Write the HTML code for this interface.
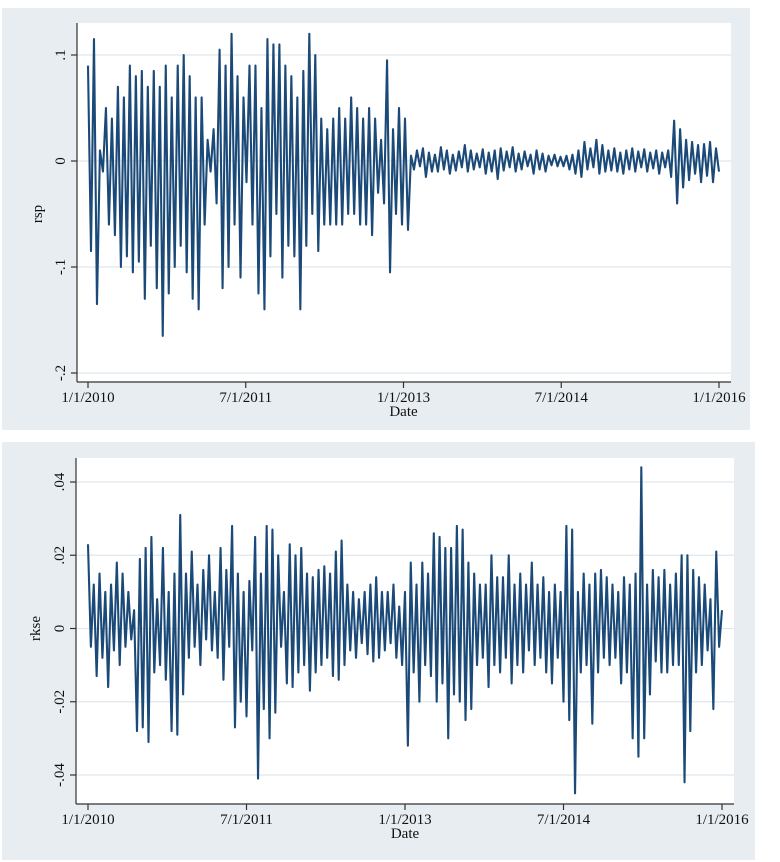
<!DOCTYPE html>
<html><head><meta charset="utf-8"><style>
html,body{margin:0;padding:0;background:#fff;width:780px;height:862px;overflow:hidden}
svg{display:block}
text{font-family:"Liberation Serif",serif;fill:#111}
</style></head><body>
<svg id="chart" width="780" height="862">
<rect x="2" y="8" width="748" height="422" fill="#e7edf0"/>
<rect x="77" y="23" width="654" height="359" fill="#fff"/>
<rect x="2" y="442" width="753" height="418" fill="#e7edf0"/>
<rect x="76" y="458" width="658" height="346" fill="#fff"/>
</svg>
<script>
const xTickLabels = ["1/1/2010","7/1/2011","1/1/2013","7/1/2014","1/1/2016"];
const rspTicks = [0.1, 0, -0.1, -0.2];
const rspTickLabels = [".1","0","-.1","-.2"];
const rkseTicks = [0.04, 0.02, 0, -0.02, -0.04];
const rkseTickLabels = [".04",".02","0","-.02","-.04"];
const rspValues = [.09,-.085,.115,-.135,.01,-.01,.05,-.06,.04,-.07,.07,-.1,.06,-.09,.09,-.105,.08,-.095,.085,-.13,.07,-.08,.085,-.12,.07,-.165,.09,-.125,.06,-.1,.09,-.08,.1,-.105,.08,-.13,.06,-.14,.06,-.06,.02,-.01,.03,-.04,.105,-.12,.09,-.1,.12,-.06,.08,-.11,.06,-.02,.09,-.06,.09,-.125,.05,-.14,.115,-.09,.11,-.05,.11,-.11,.09,-.08,.08,-.09,.06,-.14,.085,-.08,.12,-.05,.1,-.085,.04,-.06,.03,-.06,.04,-.06,.05,-.06,.04,-.05,.06,-.05,.05,-.06,.04,-.06,.05,-.07,.04,-.03,.02,-.04,.095,-.105,.03,-.05,.05,-.06,.04,-.065,
.005,-.008,.01,-.005,.012,-.015,.008,-.01,.006,-.01,.013,-.008,.01,-.012,.006,-.009,.009,-.006,.015,-.01,.01,-.008,.007,-.006,.011,-.012,.008,-.01,.01,-.017,.012,-.009,.009,-.006,.013,-.01,.007,-.008,.009,-.005,.006,-.012,.01,-.008,.007,-.01,.005,-.004,.006,-.005,.004,-.005,.005,-.008,.006,-.012,.01,-.015,.018,-.008,.012,-.006,.02,-.012,.015,-.01,.01,-.009,.012,-.01,.008,-.012,.01,-.008,.012,-.01,.009,-.006,.011,-.01,.008,-.007,.01,-.012,.008,-.006,.01,-.015,.038,-.04,.03,-.025,.02,-.018,.018,-.012,.015,-.02,.016,-.014,.018,-.02,.012,-.01];
const rkseValues = [.023,-.005,.012,-.013,.015,-.008,.01,-.016,.012,-.006,
.018,-.01,.015,-.005,.01,-.003,.005,-.028,.019,-.027,
.022,-.031,.025,-.012,.008,-.01,.022,-.014,.01,-.028,
.015,-.029,.031,-.018,.015,-.008,.021,-.005,.012,-.01,
.016,-.003,.02,-.006,.01,-.008,.022,-.014,.016,-.005,
.028,-.027,.015,-.02,.01,-.024,.013,-.006,.025,-.041,
.015,-.022,.028,-.03,.027,-.023,.02,-.005,.01,-.015,
.023,-.016,.02,-.012,.022,-.01,.015,-.017,.014,-.012,
.016,-.01,.017,-.008,.015,-.013,.021,-.014,.024,-.01,
.012,-.006,.01,-.008,.008,-.004,.01,-.007,.012,-.009,
.014,-.008,.01,-.006,.01,-.004,.012,-.008,.006,-.01,
.01,-.032,.018,-.012,.012,-.02,.018,-.01,.015,-.013,
.026,-.02,.025,-.015,.022,-.03,.022,-.018,.028,-.02,
.027,-.025,.018,-.022,.015,-.01,.012,-.008,.012,-.016,
.02,-.01,.014,-.012,.014,-.008,.02,-.015,.012,-.01,
.015,-.012,.012,-.006,.018,-.01,.012,-.008,.014,-.012,
.01,-.015,.012,-.008,.01,-.02,.028,-.025,.027,-.045,
.01,-.012,.015,-.01,.012,-.026,.015,-.012,.016,-.008,
.014,-.01,.012,-.008,.01,-.015,.014,-.012,.012,-.03,
.015,-.035,.044,-.03,.012,-.018,.016,-.009,.014,-.012,
.016,-.012,.012,-.01,.015,-.01,.02,-.042,.02,-.028,
.016,-.012,.014,-.01,.012,-.006,.008,-.022,.021,-.005,.005];

const NS="http://www.w3.org/2000/svg";
const svg=document.getElementById('chart');
function mk(tag,attrs,parent){const e=document.createElementNS(NS,tag);for(const k in attrs)e.setAttribute(k,attrs[k]);(parent||svg).appendChild(e);return e;}

function panel(p){
  const g=mk('g',{});
  
  
  const y=v=>p.y0+(v-p.v0)*(p.y1-p.y0)/(p.v1-p.v0);
  const x=t=>p.xL+t*(p.xR-p.xL);
  p.ticks.forEach((v,i)=>{
    const l=mk('line',{x1:p.plotL,x2:p.plotR,y1:y(v),y2:y(v),stroke:'#dfe8ec','stroke-width':1.2},g);
    
    
  });
  const n=p.values.length;
  const pts=p.values.map((v,i)=>x(i/(n-1)).toFixed(2)+','+y(v).toFixed(2)).join(' ');
  const line=mk('polyline',{points:pts,fill:'none',stroke:'#1c4a78','stroke-width':2.1,'stroke-linejoin':'round'},g);
  
  
  const ya=mk('line',{x1:p.plotL,x2:p.plotL,y1:p.plotT,y2:p.axisY,stroke:'#333','stroke-width':1.2},g);
  
  
  const xa=mk('line',{x1:p.plotL,x2:p.plotR,y1:p.axisY,y2:p.axisY,stroke:'#333','stroke-width':1.2},g);
  
  
  p.ticks.forEach((v,i)=>{
    const tk=mk('line',{x1:p.plotL-6,x2:p.plotL,y1:y(v),y2:y(v),stroke:'#333','stroke-width':1.2},g);
    
    
    const t=mk('text',{x:0,y:0,'font-size':15,'text-anchor':'middle',transform:`translate(${p.plotL-12},${y(v)}) rotate(-90)`},g);
    t.textContent=p.tickLabels[i];
    
    
  });
  xTickLabels.forEach((s,i)=>{
    const xx=x(i/(xTickLabels.length-1));
    const tk=mk('line',{x1:xx,x2:xx,y1:p.axisY,y2:p.axisY+6,stroke:'#333','stroke-width':1.2},g);
    
    
    const t=mk('text',{x:xx,y:p.axisY+20,'font-size':15,'text-anchor':'middle'},g);
    t.textContent=s;
    
    
  });
  const xt=mk('text',{x:(p.xL+p.xR)/2,y:p.axisY+34,'font-size':15,'text-anchor':'middle'},g);
  xt.textContent='Date';
  
  
  const yt=mk('text',{x:0,y:0,'font-size':15,'text-anchor':'middle',transform:`translate(${p.titleX},${y((p.v0+p.v1)/2)}) rotate(-90)`},g);
  yt.textContent=p.name;
  
  
}

panel({name:'rsp',values:rspValues,ticks:rspTicks,tickLabels:rspTickLabels,
  v0:0.1,y0:55,v1:-0.2,y1:373,xL:88,xR:719,plotL:77,plotR:731,plotT:23,axisY:382,titleX:42});
panel({name:'rkse',values:rkseValues,ticks:rkseTicks,tickLabels:rkseTickLabels,
  v0:0.04,y0:482,v1:-0.04,y1:775,xL:88,xR:722,plotL:76,plotR:734,plotT:458,axisY:804,titleX:40});
</script>
</body></html>
